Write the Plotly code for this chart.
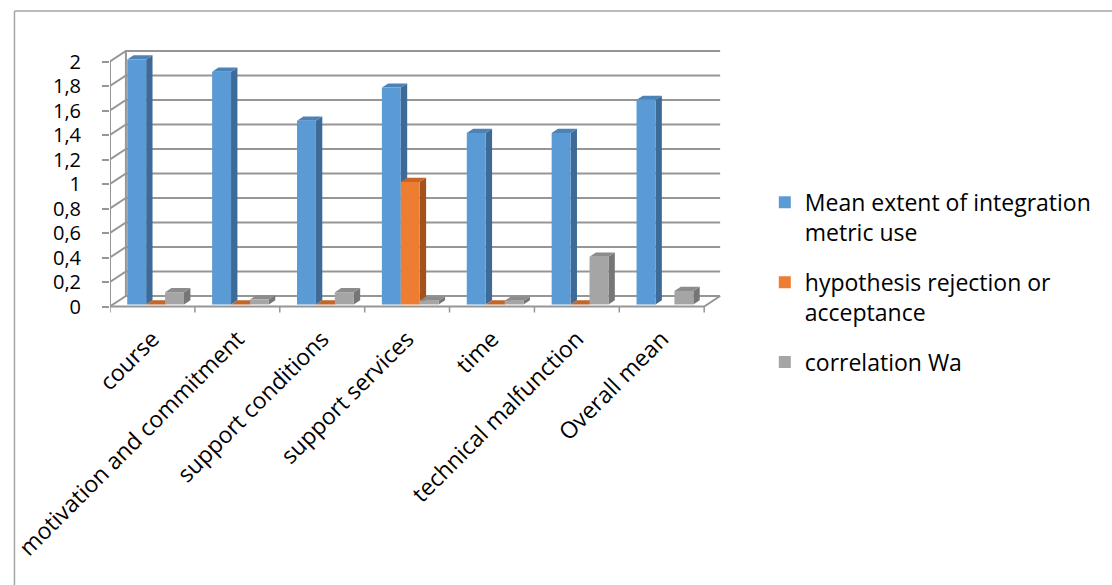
import plotly.graph_objects as go

# ---------------- data ----------------
categories = ["course", "motivation and commitment", "support conditions",
              "support services", "time", "technical malfunction", "Overall mean"]
mean_use = [2.0, 1.9, 1.5, 1.77, 1.4, 1.4, 1.67]
hypothesis = [0, 0, 0, 1.0, 0, 0, None]
correlation = [0.1, 0.04, 0.1, 0.03, 0.03, 0.39, 0.11]
series_names = ["Mean extent of integration<br>metric use",
                "hypothesis rejection or<br>acceptance",
                "correlation Wa"]
y_tick_values = [0, 0.2, 0.4, 0.6, 0.8, 1.0, 1.2, 1.4, 1.6, 1.8, 2.0]
y_tick_labels = ["0", "0,2", "0,4", "0,6", "0,8", "1", "1,2", "1,4", "1,6", "1,8", "2"]

front_colors = ["#5B9BD5", "#ED7D31", "#A5A5A5"]
side_colors = ["#3D6A96", "#A3521D", "#767676"]
top_colors = ["#4B82B8", "#C4652A", "#8C8C8C"]

# ---------------- geometry (pixels -> data units) ----------------
W, H = 1112, 585
ML, MR, MT = 107, 387, 37
XR = [-0.5, 6.745]
YR = [-0.11, 2.2]
ypx = 122.58
ph = (YR[1] - YR[0]) * ypx
MB = H - MT - ph
pw = W - ML - MR
xpx = pw / (XR[1] - XR[0])
DX = 16 / xpx          # depth offset of back wall (x)
DY = 10.5 / ypx        # depth offset of back wall (y)
Z0, Z1 = 0.2, 0.6      # bar depth (fraction of wall depth)
BW = 0.223             # bar width (category units)

n = len(categories)
xmin, xmax = -0.5, n - 0.5
grid_col = "#969696"

fig = go.Figure()

# back wall + side wall gridlines
gx, gy = [], []
for v in y_tick_values:
    gx += [xmin, xmin + DX, xmax + DX, None]
    gy += [v, v + DY, v + DY, None]
gx += [xmin + DX, xmin + DX, None, xmin, xmin, None, xmin, xmax, xmax + DX, None]
gy += [DY, 2 + DY, None, 0, 2, None, 0, 0, DY, None]
fig.add_trace(go.Scatter(x=gx, y=gy, mode="lines", line=dict(color=grid_col, width=2),
                         hoverinfo="skip", showlegend=False, zorder=-1))

all_series = [mean_use, hypothesis, correlation]

# side and top faces (drawn left-to-right within each category)
for si, vals in enumerate(all_series):
    sx, sy, tx, ty = [], [], [], []
    for ci, v in enumerate(vals):
        if v is None:
            continue
        xl = ci + (si - 1.5) * BW + Z0 * DX
        xr = xl + BW
        b = Z0 * DY
        d = Z1 - Z0
        sx += [xr, xr, xr + d * DX, xr + d * DX, xr, None]
        sy += [b, b + v, b + v + d * DY, b + d * DY, b, None]
        tx += [xl, xr, xr + d * DX, xl + d * DX, xl, None]
        ty += [b + v, b + v, b + v + d * DY, b + v + d * DY, b + v, None]
    fig.add_trace(go.Scatter(x=sx, y=sy, mode="lines", fill="toself",
                             fillcolor=side_colors[si], line=dict(width=0, color=side_colors[si]),
                             hoverinfo="skip", showlegend=False, legendgroup=f"g{si}", zorder=0))
    fig.add_trace(go.Scatter(x=tx, y=ty, mode="lines", fill="toself",
                             fillcolor=top_colors[si], line=dict(width=0, color=top_colors[si]),
                             hoverinfo="skip", showlegend=False, legendgroup=f"g{si}", zorder=0))

# front faces as bars
for si, vals in enumerate(all_series):
    xs = [ci + (si - 1) * BW + Z0 * DX for ci in range(n)]
    fig.add_trace(go.Bar(x=xs, y=vals, base=Z0 * DY, width=BW, name=series_names[si],
                         marker=dict(color=front_colors[si], line=dict(width=0)),
                         legendgroup=f"g{si}", zorder=1))

# front axis line and category tick marks
ax, ay = [], []
for k in range(n + 1):
    ax += [xmin + k, xmin + k, None]
    ay += [0, -6 / ypx, None]
fig.add_trace(go.Scatter(x=ax, y=ay, mode="lines", line=dict(color=grid_col, width=1.5),
                         hoverinfo="skip", showlegend=False, zorder=2))

font_family = "'Open Sans', Lato, sans-serif"
FS = 23
fig.update_layout(
    width=W, height=H,
    margin=dict(l=ML, r=MR, t=MT, b=MB, pad=0),
    paper_bgcolor="white", plot_bgcolor="rgba(0,0,0,0)",
    barmode="overlay",
    font=dict(family=font_family, size=FS, color="#000000"),
    xaxis=dict(range=XR, tickvals=list(range(n)), ticktext=categories, tickangle=-45,
               showgrid=False, zeroline=False, showline=False, ticks="",
               tickfont=dict(size=FS, color="#000000")),
    yaxis=dict(range=YR, tickvals=y_tick_values, ticktext=y_tick_labels,
               showgrid=False, zeroline=False, showline=False,
               ticks="outside", ticklen=7, tickcolor=grid_col, tickwidth=1.5,
               ticklabelstandoff=17, tickfont=dict(size=20, color="#000000")),
    legend=dict(x=(765 - ML) / pw, y=(H - MB - 181) / ph, xanchor="left", yanchor="top",
                valign="top", traceorder="grouped", tracegroupgap=17,
                font=dict(size=FS, color="#000000"), bgcolor="rgba(0,0,0,0)"),
    showlegend=True,
)

# outer chart border (top and left edges visible)
bx = (11 - ML) / pw
by = (H - MB - 11) / ph
fig.add_shape(type="line", xref="paper", yref="paper", x0=bx, x1=bx, y0=by, y1=-(MB + 10) / ph,
              line=dict(color="#A6A6A6", width=1.5))
fig.add_shape(type="line", xref="paper", yref="paper", x0=bx, x1=(W + 10 - ML) / pw, y0=by, y1=by,
              line=dict(color="#A6A6A6", width=1.5))

fig.write_html("out.html")
